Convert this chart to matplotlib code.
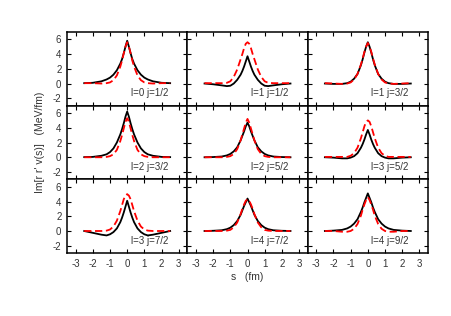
import numpy as np
import matplotlib.pyplot as plt

plt.rcParams['font.family'] = ['Liberation Sans', 'DejaVu Sans']
plt.rcParams['axes.unicode_minus'] = False

# s grid (fm) shared by all curves
s = [-2.5, -2.0, -1.5, -1.2, -1.0, -0.8, -0.6, -0.4, -0.3, -0.2, -0.1, 0.0,
     0.1, 0.2, 0.3, 0.4, 0.6, 0.8, 1.0, 1.2, 1.5, 2.0, 2.5]

labels = ['l=0 j=1/2', 'l=1 j=1/2', 'l=1 j=3/2',
          'l=2 j=3/2', 'l=2 j=5/2', 'l=3 j=5/2',
          'l=3 j=7/2', 'l=4 j=7/2', 'l=4 j=9/2']

# black solid curves
black = [
    [0.05, 0.1, 0.3, 0.55, 0.8, 1.2, 1.8, 2.7, 3.3, 4.1, 5.0, 5.8,
     5.0, 4.1, 3.3, 2.7, 1.8, 1.2, 0.8, 0.55, 0.3, 0.1, 0.05],
    [0.0, -0.1, -0.25, -0.35, -0.3, 0.0, 0.5, 1.2, 1.7, 2.3, 3.0, 3.7,
     3.0, 2.3, 1.7, 1.2, 0.5, 0.0, -0.3, -0.35, -0.25, -0.1, 0.0],
    [0.0, -0.05, -0.05, 0.05, 0.25, 0.65, 1.3, 2.5, 3.3, 4.2, 5.0, 5.6,
     5.0, 4.2, 3.3, 2.5, 1.3, 0.65, 0.25, 0.05, -0.05, -0.05, 0.0],
    [0.02, 0.05, 0.2, 0.4, 0.7, 1.2, 2.0, 3.1, 3.8, 4.6, 5.5, 6.2,
     5.5, 4.6, 3.8, 3.1, 2.0, 1.2, 0.7, 0.4, 0.2, 0.05, 0.02],
    [0.0, 0.03, 0.1, 0.25, 0.45, 0.8, 1.35, 2.3, 2.9, 3.5, 4.2, 4.7,
     4.2, 3.5, 2.9, 2.3, 1.35, 0.8, 0.45, 0.25, 0.1, 0.03, 0.0],
    [0.0, -0.05, -0.15, -0.15, -0.05, 0.15, 0.55, 1.3, 1.8, 2.4, 3.1, 3.7,
     3.1, 2.4, 1.8, 1.3, 0.55, 0.15, -0.05, -0.15, -0.15, -0.05, 0.0],
    [0.0, -0.25, -0.5, -0.6, -0.45, -0.15, 0.35, 1.2, 1.8, 2.5, 3.3, 4.1,
     3.3, 2.5, 1.8, 1.2, 0.35, -0.15, -0.45, -0.6, -0.5, -0.25, 0.0],
    [0.0, 0.03, 0.1, 0.25, 0.45, 0.8, 1.35, 2.2, 2.8, 3.4, 3.9, 4.4,
     3.9, 3.4, 2.8, 2.2, 1.35, 0.8, 0.45, 0.25, 0.1, 0.03, 0.0],
    [0.0, 0.05, 0.15, 0.35, 0.6, 1.0, 1.6, 2.6, 3.2, 3.9, 4.5, 5.1,
     4.5, 3.9, 3.2, 2.6, 1.6, 1.0, 0.6, 0.35, 0.15, 0.05, 0.0],
]

# red dashed curves
red = [
    [0.05, 0.05, 0.0, 0.05, 0.15, 0.45, 1.1, 2.3, 3.1, 4.1, 5.0, 5.6,
     5.0, 4.1, 3.1, 2.3, 1.1, 0.45, 0.15, 0.05, 0.0, 0.05, 0.05],
    [0.05, 0.05, 0.05, 0.1, 0.3, 0.9, 1.9, 3.3, 4.0, 4.8, 5.4, 5.6,
     5.4, 4.8, 4.0, 3.3, 1.9, 0.9, 0.3, 0.1, 0.05, 0.05, 0.05],
    [0.05, 0.0, -0.05, 0.0, 0.15, 0.55, 1.3, 2.6, 3.4, 4.3, 5.0, 5.5,
     5.0, 4.3, 3.4, 2.6, 1.3, 0.55, 0.15, 0.0, -0.05, 0.0, 0.05],
    [0.0, 0.0, 0.0, 0.05, 0.15, 0.4, 1.0, 2.2, 3.0, 3.9, 4.8, 5.3,
     4.8, 3.9, 3.0, 2.2, 1.0, 0.4, 0.15, 0.05, 0.0, 0.0, 0.0],
    [0.0, 0.0, 0.0, 0.05, 0.15, 0.45, 1.1, 2.3, 3.1, 3.9, 4.7, 5.2,
     4.7, 3.9, 3.1, 2.3, 1.1, 0.45, 0.15, 0.05, 0.0, 0.0, 0.0],
    [0.05, 0.05, 0.05, 0.05, 0.2, 0.55, 1.3, 2.6, 3.4, 4.2, 4.8, 5.0,
     4.8, 4.2, 3.4, 2.6, 1.3, 0.55, 0.2, 0.05, 0.05, 0.05, 0.05],
    [0.0, 0.0, 0.0, 0.05, 0.2, 0.6, 1.4, 2.7, 3.5, 4.3, 4.8, 5.0,
     4.8, 4.3, 3.5, 2.7, 1.4, 0.6, 0.2, 0.05, 0.0, 0.0, 0.0],
    [0.0, 0.0, 0.0, 0.05, 0.15, 0.5, 1.15, 2.3, 3.0, 3.6, 4.1, 4.3,
     4.1, 3.6, 3.0, 2.3, 1.15, 0.5, 0.15, 0.05, 0.0, 0.0, 0.0],
    [0.0, 0.0, -0.1, -0.1, 0.0, 0.3, 0.95, 2.1, 2.9, 3.6, 4.2, 4.6,
     4.2, 3.6, 2.9, 2.1, 0.95, 0.3, 0.0, -0.1, -0.1, 0.0, 0.0],
]

fig, axes = plt.subplots(3, 3, figsize=(4.51, 3.16), dpi=100,
                         sharex=True, sharey=True)
fig.subplots_adjust(left=0.1486, right=0.949, top=0.899, bottom=0.199,
                    wspace=0, hspace=0)

for k, ax in enumerate(axes.flat):
    ax.plot(s, black[k], color='black', lw=1.3)
    ax.plot(s, red[k], color='#ff0000', lw=1.3, dashes=(4, 2))
    ax.text(0.53, 0.17, labels[k], transform=ax.transAxes,
            fontsize=7, color='#333333', va='center')
    ax.set_xlim(-3.5, 3.5)
    ax.set_ylim(-3, 7)
    ax.set_xticks(range(-3, 4))
    ax.set_yticks(range(-2, 7, 2))
    ax.tick_params(direction='in', top=True, right=True, length=3,
                   width=0.8, labelsize=7, labelcolor='#333333', pad=4)
    for sp in ax.spines.values():
        sp.set_linewidth(1.1)

fig.text(0.089, 0.55, "Im[r r' v(s)]   (MeV/fm)", rotation=90,
         ha='center', va='center', fontsize=7.5, color='#333333')
fig.text(0.548, 0.125, 's   (fm)', ha='center', va='center',
         fontsize=7.5, color='#333333')

fig.savefig('out.png', dpi=100)
